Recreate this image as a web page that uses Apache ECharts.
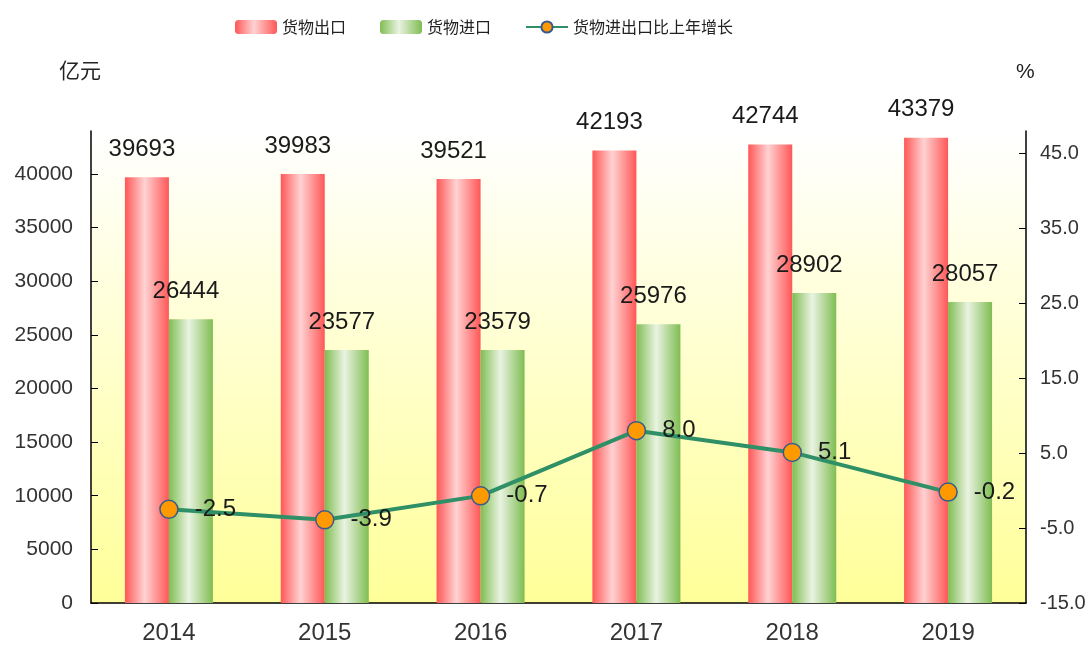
<!DOCTYPE html>
<html>
<head>
<meta charset="utf-8">
<script src="https://cdn.jsdelivr.net/npm/echarts@6/dist/echarts.min.js"></script>
<style>
  html, body { margin: 0; padding: 0; background: #fff; }
  #main { width: 1091px; height: 650px; }
</style>
</head>
<body>
<div id="main"></div>
<script>
// 年份
var years = ['2014', '2015', '2016', '2017', '2018', '2019'];
// 货物出口（亿元）
var exportValues = [39693, 39983, 39521, 42193, 42744, 43379];
// 货物进口（亿元）
var importValues = [26444, 23577, 23579, 25976, 28902, 28057];
// 货物进出口比上年增长（%）
var growthValues = [-2.5, -3.9, -0.7, 8.0, 5.1, -0.2];
// 刻度
var leftTicks = [0, 5000, 10000, 15000, 20000, 25000, 30000, 35000, 40000];
var rightTicks = [-15, -5, 5, 15, 25, 35, 45];

var numFont = '"Liberation Sans", Arial, sans-serif';
var cjkFont = '"Noto Sans CJK SC", sans-serif';

var chart = echarts.init(document.getElementById('main'));

// 柱子的横向渐变，中间发亮
function barGradient(edge, mid) {
    return new echarts.graphic.LinearGradient(0, 0, 1, 0, [
        { offset: 0, color: edge },
        { offset: 0.45, color: mid },
        { offset: 1, color: edge }
    ]);
}

var option = {
    animation: false,
    legend: {
        left: 230,
        top: 14,
        itemWidth: 42,
        itemHeight: 14,
        itemGap: 34,
        textStyle: { fontFamily: cjkFont, fontSize: 16, color: '#222' },
        data: ['货物出口', '货物进口', '货物进出口比上年增长']
    },
    grid: {
        left: 91,
        right: 65,
        top: 131,
        bottom: 47,
        show: true,
        borderWidth: 0,
        backgroundColor: new echarts.graphic.LinearGradient(0, 0, 0, 1, [
            { offset: 0, color: '#ffffff' },
            { offset: 1, color: '#ffff99' }
        ])
    },
    xAxis: {
        type: 'category',
        data: years,
        axisLine: { lineStyle: { color: '#000', width: 1.5 } },
        axisTick: { inside: true, length: 8, lineStyle: { color: '#000' } },
        axisLabel: { fontFamily: numFont, fontSize: 24, color: '#333', margin: 18 }
    },
    yAxis: [
        {
            type: 'value',
            name: '亿元',
            nameLocation: 'end',
            nameGap: 50,
            nameTextStyle: { fontFamily: cjkFont, fontSize: 21, color: '#222', align: 'right', padding: [0, -10, 0, 0] },
            min: 0,
            max: 44000,
            interval: 5000,
            splitLine: { show: false },
            axisLine: { show: true, lineStyle: { color: '#000', width: 1.5 } },
            axisTick: { show: true, inside: true, length: 7, customValues: leftTicks, lineStyle: { color: '#000' } },
            axisLabel: {
                customValues: leftTicks,
                fontFamily: numFont, fontSize: 21, color: '#333', margin: 18,
                formatter: function (v) { return String(v); }
            }
        },
        {
            type: 'value',
            name: '%',
            nameLocation: 'end',
            nameGap: 48,
            nameTextStyle: { fontFamily: numFont, fontSize: 21, color: '#222', align: 'left', padding: [0, 0, 0, -10] },
            min: -15,
            max: 48,
            interval: 10,
            splitLine: { show: false },
            axisLine: { show: true, lineStyle: { color: '#000', width: 1.5 } },
            axisTick: { show: true, inside: true, length: 7, customValues: rightTicks, lineStyle: { color: '#000' } },
            axisLabel: {
                customValues: rightTicks,
                fontFamily: numFont, fontSize: 20, color: '#333', margin: 14,
                formatter: function (v) { return v.toFixed(1); }
            }
        }
    ],
    series: [
        {
            name: '货物出口',
            type: 'bar',
            data: exportValues,
            barWidth: 44,
            barGap: '0%',
            itemStyle: { color: barGradient('#ff5757', '#ffd2d2') },
            label: {
                show: true, position: 'top', distance: 16, offset: [-5, 0],
                fontFamily: numFont, fontSize: 24, color: '#1a1a1a'
            }
        },
        {
            name: '货物进口',
            type: 'bar',
            data: importValues,
            barWidth: 44,
            itemStyle: { color: barGradient('#7fbd52', '#eaf3e2') },
            label: {
                show: true, position: 'top', distance: 16, offset: [-5, 0],
                fontFamily: numFont, fontSize: 24, color: '#1a1a1a'
            }
        },
        {
            name: '货物进出口比上年增长',
            type: 'line',
            yAxisIndex: 1,
            data: growthValues,
            symbol: 'circle',
            symbolSize: 18,
            z: 5,
            lineStyle: { color: '#2f8f66', width: 4 },
            itemStyle: { color: '#ff9900', borderColor: '#3b5a8c', borderWidth: 1.5 },
            label: {
                show: true, position: 'right', distance: 16,
                fontFamily: numFont, fontSize: 24, color: '#1a1a1a',
                formatter: function (p) { return p.value.toFixed(1); }
            }
        }
    ]
};

chart.setOption(option);
</script>
</body>
</html>
